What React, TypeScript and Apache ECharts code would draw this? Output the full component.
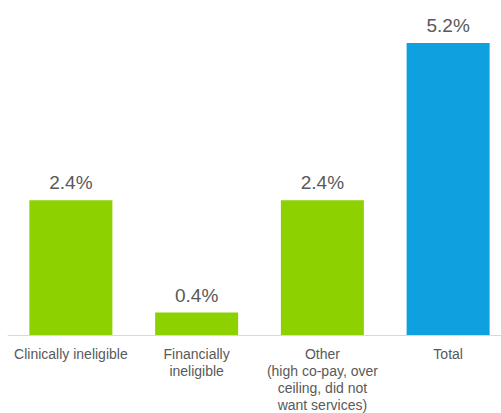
import React, { useEffect, useRef } from "react";
import * as echarts from "echarts";

const categories = [
  "Clinically ineligible",
  "Financially\nineligible",
  "Other\n(high co-pay, over\nceiling, did not\nwant services)",
  "Total",
];
const values = [2.4, 0.4, 2.4, 5.2];
const barColors = ["#8DD100", "#8DD100", "#8DD100", "#0FA0E0"];

export default function App() {
  const ref = useRef<HTMLDivElement>(null);
  useEffect(() => {
    const chart = echarts.init(ref.current!, null, { renderer: "svg" });
    chart.setOption({
      animation: false,
      grid: { left: 8, top: 43, bottom: 75, right: 0 },
      xAxis: {
        type: "category",
        data: categories,
        axisLine: { show: true, lineStyle: { color: "#d9d9d9", width: 1 } },
        axisTick: { show: false },
        axisLabel: {
          interval: 0,
          color: "#595959",
          fontSize: 14,
          lineHeight: 17,
          margin: 10,
          fontFamily: "Liberation Sans, Arial, sans-serif",
        },
      },
      yAxis: { type: "value", min: 0, max: 5.2, show: false, splitLine: { show: false } },
      series: [
        {
          type: "bar",
          barWidth: 83,
          data: values.map((v, i) => ({ value: v, itemStyle: { color: barColors[i] } })),
          label: {
            show: true,
            position: "top",
            distance: 8,
            color: "#595959",
            fontSize: 19,
            fontFamily: "Liberation Sans, Arial, sans-serif",
            formatter: (p: any) => p.value.toFixed(1) + "%",
          },
        },
      ],
    });
    return () => chart.dispose();
  }, []);
  return (
    <div
      style={{ position: "fixed", left: 0, top: 0, width: 501, height: 413, overflow: "hidden", background: "#fff" }}
    >
      <div ref={ref} style={{ width: 511, height: 413 }} />
    </div>
  );
}
